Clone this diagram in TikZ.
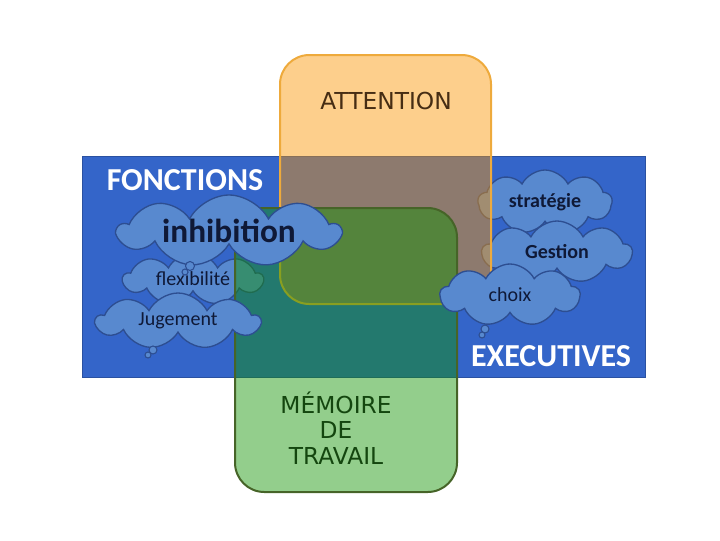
\documentclass[tikz,border=0pt]{standalone}
\usepackage{fontspec}
\setmainfont{Carlito}
\newfontfamily\comicfont{DejaVu Sans}
\usepackage{xcolor}
\usepackage{tikz}
\usetikzlibrary{shapes.symbols, positioning}
\definecolor{fonctblue}{RGB}{52,101,201}
\definecolor{cloudblue}{RGB}{88,137,207}
\definecolor{clouddraw}{RGB}{45,78,145}
\definecolor{cloudtext}{RGB}{15,25,55}
\definecolor{attorange}{RGB}{250,148,0}
\definecolor{attborder}{RGB}{238,170,60}
\definecolor{memgreen}{RGB}{16,146,0}
\definecolor{memborder}{RGB}{70,100,40}
\definecolor{atttext}{RGB}{70,45,20}
\definecolor{memtext}{RGB}{20,70,15}
\newcommand{\unitpx}{0.75pt}
\tikzset{
  zone/.style={rectangle, rounded corners=22pt, line width=1.5pt,
               fill opacity=0.45, inner sep=0pt},
  bulle/.style={cloud, cloud puffs=9, cloud puff arc=125, cloud ignores aspect,
                draw=clouddraw, fill=cloudblue, line width=1pt, inner sep=0pt,
                text=cloudtext, font=\fontsize{15}{18}\selectfont},
  queue/.style={circle, draw=clouddraw, fill=cloudblue, line width=0.8pt,
                inner sep=0pt},
  titre/.style={text=white, font=\fontsize{24}{28}\selectfont\bfseries},
  comic/.style={align=center, font=\comicfont\fontsize{17.5}{19}\selectfont}
}
\begin{document}
\begin{tikzpicture}[x=0.75pt, y=-0.75pt]
  \useasboundingbox (0,0) rectangle (720,540);

  %% ── Fond bleu ──────────────────────────────────────────────────────────
  \node[rectangle, fill=fonctblue, draw=fonctblue!80!black, inner sep=0pt,
        minimum width=563*\unitpx, minimum height=221*\unitpx] (fonctions) at (363.5,266.5) {};

  %% ── Bulles sous les zones ──────────────────────────────────────────────
  \node[bulle, minimum width=140*\unitpx, minimum height=52*\unitpx] (flex) at (193,279) {flexibilité};
  \node[bulle, font=\fontsize{15}{18}\selectfont\bfseries,
        minimum width=134*\unitpx, minimum height=64*\unitpx] (strategie) at (545,202) {stratégie};
  \node[bulle, font=\fontsize{15}{18}\selectfont\bfseries,
        minimum width=150*\unitpx, minimum height=62*\unitpx] (gestion) at (557,252) {Gestion};

  %% ── Attention et mémoire de travail ───────────────────────────────────
  \node[zone, fill=attorange, draw=attborder,
        minimum width=211*\unitpx, minimum height=249*\unitpx] (attention) at (385.5,179.5) {};
  \node[zone, fill=memgreen, draw=memborder,
        minimum width=222*\unitpx, minimum height=284*\unitpx] (memoire) at (346,350) {};

  %% ── Bulles au-dessus ───────────────────────────────────────────────────
  \node[bulle, font=\fontsize{25}{30}\selectfont\bfseries,
        minimum width=222*\unitpx, minimum height=72*\unitpx] (inhibition) at (229,231) {inhibition};
  \node[queue, minimum size=9*\unitpx] (inhq1) at (190,266) {};
  \node[queue, minimum size=6*\unitpx] (inhq2) at (185,272) {};

  \node[bulle, minimum width=164*\unitpx, minimum height=56*\unitpx] (jugement) at (178,321) {Jugement};
  \node[queue, minimum size=8*\unitpx] (jugq1) at (153,350) {};
  \node[queue, minimum size=6*\unitpx] (jugq2) at (148,355) {};

  \node[bulle, minimum width=140*\unitpx, minimum height=62*\unitpx] (choix) at (510,295) {choix};
  \node[queue, minimum size=8*\unitpx] (choq1) at (485,329) {};
  \node[queue, minimum size=6*\unitpx] (choq2) at (482,335) {};

  %% ── Textes ─────────────────────────────────────────────────────────────
  \node[titre] (fonctlabel) at (185,180) {FONCTIONS};
  \node[titre] (execlabel) at (551,356) {EXECUTIVES};
  \node[comic, text=atttext] (attlabel) at (386,101) {ATTENTION};
  \node[comic, text=memtext] (memlabel) at (336,428) {MÉMOIRE\\DE\\TRAVAIL};

\end{tikzpicture}
\end{document}
